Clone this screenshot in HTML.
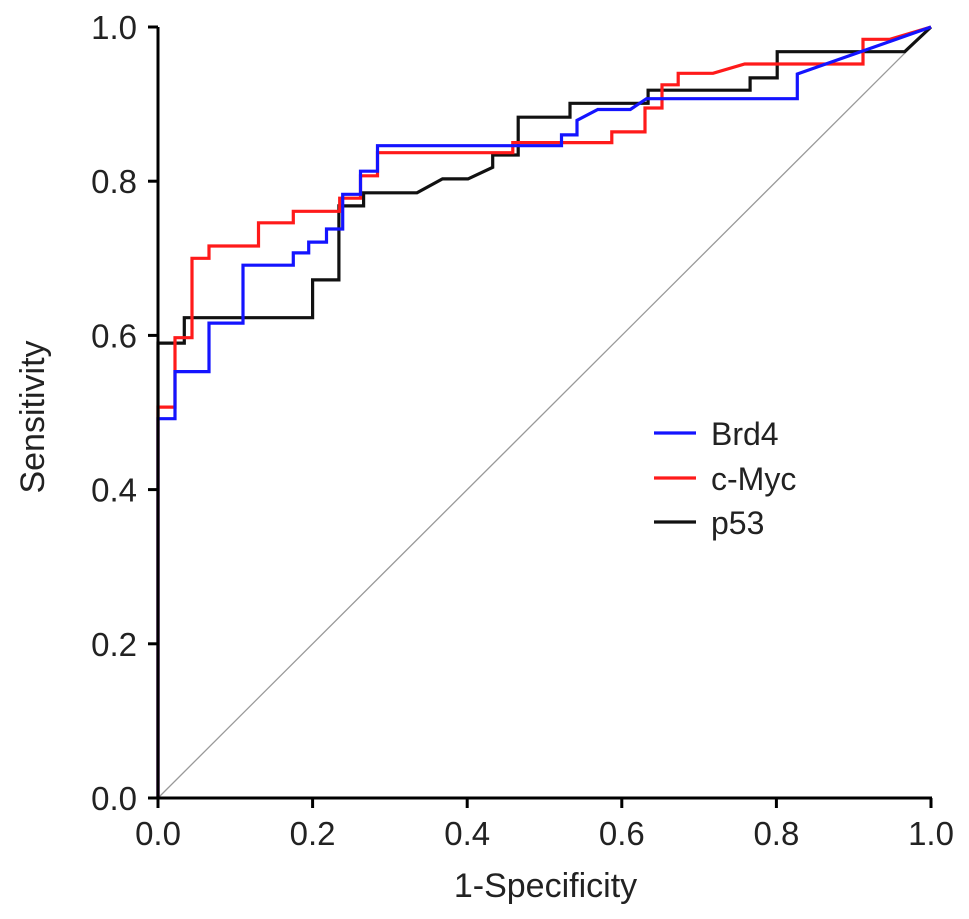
<!DOCTYPE html>
<html><head><meta charset="utf-8"><style>
body{margin:0;background:#fff}
svg{display:block;font-family:"Liberation Sans",Arial,sans-serif}
</style></head><body>
<svg id="chart" width="969" height="919" viewBox="0 0 969 919">
<g id="plot"></g>
</svg>
<script>
const xTicks=[0,0.2,0.4,0.6,0.8,1.0];
const yTicks=[0,0.2,0.4,0.6,0.8,1.0];
const seriesNames=["Brd4","c-Myc","p53"];
const seriesColors=["#1414ff","#ff1a1a","#111111"];
const brd4Fpr=[0,0,0.022,0.022,0.066,0.066,0.110,0.110,0.175,0.175,0.195,0.195,0.218,0.218,0.239,0.239,0.262,0.262,0.284,0.284,0.522,0.522,0.542,0.542,0.569,0.611,0.632,0.827,0.827,1.0];
const brd4Tpr=[0,0.492,0.492,0.553,0.553,0.616,0.616,0.691,0.691,0.707,0.707,0.721,0.721,0.738,0.738,0.783,0.783,0.813,0.813,0.846,0.846,0.860,0.860,0.879,0.893,0.893,0.907,0.907,0.939,1.0];
const mycFpr=[0,0,0.022,0.022,0.044,0.044,0.066,0.066,0.130,0.130,0.175,0.175,0.235,0.235,0.262,0.262,0.284,0.284,0.459,0.459,0.587,0.587,0.630,0.630,0.652,0.652,0.673,0.673,0.718,0.759,0.912,0.912,0.947,1.0];
const mycTpr=[0,0.507,0.507,0.597,0.597,0.700,0.700,0.716,0.716,0.746,0.746,0.761,0.761,0.778,0.778,0.807,0.807,0.837,0.837,0.850,0.850,0.864,0.864,0.895,0.895,0.925,0.925,0.940,0.940,0.952,0.952,0.984,0.984,1.0];
const p53Fpr=[0,0,0.034,0.034,0.200,0.200,0.234,0.234,0.266,0.266,0.335,0.368,0.401,0.433,0.433,0.466,0.466,0.533,0.533,0.634,0.634,0.766,0.766,0.801,0.801,0.966,1.0];
const p53Tpr=[0,0.590,0.590,0.623,0.623,0.672,0.672,0.768,0.768,0.785,0.785,0.803,0.803,0.818,0.834,0.834,0.883,0.883,0.901,0.901,0.918,0.918,0.934,0.934,0.968,0.968,1.0];
const X0=158,X1=931,Y0=798,Y1=27;
const sx=v=>X0+(X1-X0)*v, sy=v=>Y0-(Y0-Y1)*v;
const NS="http://www.w3.org/2000/svg";
const g=document.getElementById('plot');
function mk(t,a,txt){const e=document.createElementNS(NS,t);for(const k in a)e.setAttribute(k,a[k]);if(txt!==undefined)e.textContent=txt;g.appendChild(e);return e;}
let e;
e=mk('line',{x1:sx(0),y1:sy(0),x2:sx(1),y2:sy(1),stroke:'#999','stroke-width':1.3});


const fprs=[brd4Fpr,mycFpr,p53Fpr], tprs=[brd4Tpr,mycTpr,p53Tpr];
const order=[2,1,0];
order.forEach(i=>{
  const pts=fprs[i].map((f,j)=>sx(f).toFixed(1)+','+sy(tprs[i][j]).toFixed(1)).join(' ');
  const p=mk('polyline',{points:pts,fill:'none',stroke:seriesColors[i],'stroke-width':3.2,'stroke-linejoin':'miter'});
  
  
});
e=mk('line',{x1:X0,y1:Y0+1,x2:X0,y2:Y1,stroke:'#000','stroke-width':3});


e=mk('line',{x1:X0-1,y1:Y0,x2:X1+1,y2:Y0,stroke:'#000','stroke-width':3});


xTicks.forEach(v=>{
  const t=mk('line',{x1:sx(v),y1:Y0,x2:sx(v),y2:Y0+10,stroke:'#000','stroke-width':3});
  
  
  const l=mk('text',{x:sx(v),y:Y0+47,'text-anchor':'middle','font-size':33,fill:'#222'},v.toFixed(1));
  
  
});
yTicks.forEach(v=>{
  const t=mk('line',{x1:X0-10,y1:sy(v),x2:X0,y2:sy(v),stroke:'#000','stroke-width':3});
  
  
  const l=mk('text',{x:X0-21,y:sy(v)+12,'text-anchor':'end','font-size':33,fill:'#222'},v.toFixed(1));
  
  
});
e=mk('text',{x:(X0+X1)/2+1,y:897,'text-anchor':'middle','font-size':34,fill:'#222'},'1-Specificity');


e=mk('text',{x:0,y:0,'text-anchor':'middle','font-size':34,fill:'#222',transform:'translate(44,417) rotate(-90)'},'Sensitivity');


const legY=[433,478,522];
seriesNames.forEach((n,i)=>{
  const l=mk('line',{x1:654,y1:legY[i],x2:696,y2:legY[i],stroke:seriesColors[i],'stroke-width':3.2});
  
  
  const t=mk('text',{x:711,y:legY[i]+12,'font-size':32,fill:'#222'},n);
  
  
});
</script>
</body></html>
